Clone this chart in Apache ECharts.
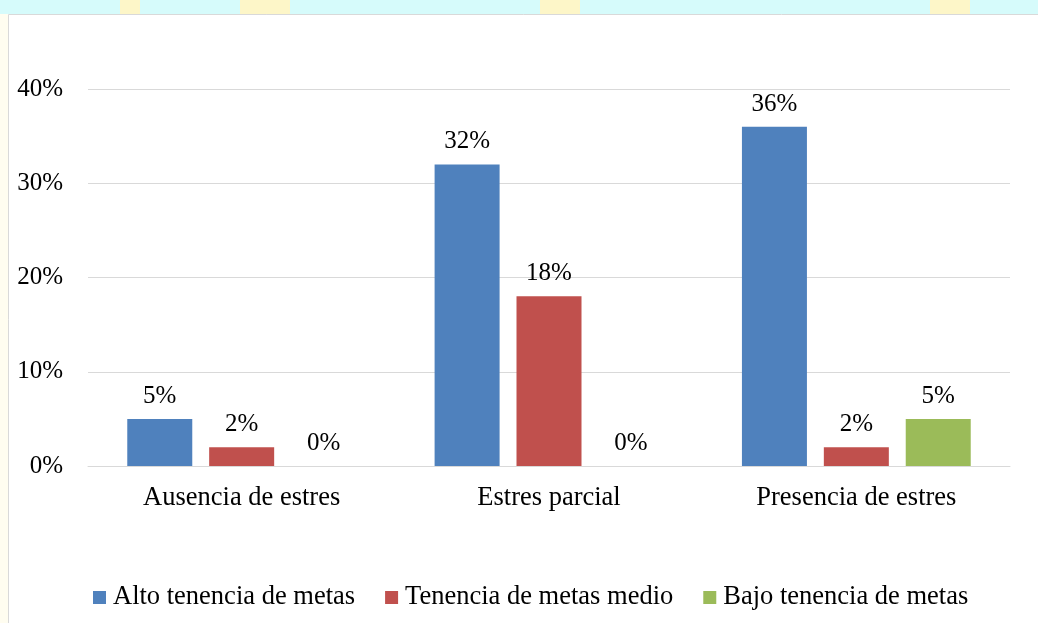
<!DOCTYPE html>
<html><head><meta charset="utf-8">
<script src="https://cdn.jsdelivr.net/npm/echarts@6/dist/echarts.min.js"></script>
<style>html,body{margin:0;padding:0;background:#fff}#c{width:1038px;height:623px}</style>
</head><body><div id="c"></div>
<script>
const categories = ['Ausencia de estres', 'Estres parcial', 'Presencia de estres'];
const seriesNames = ['Alto tenencia de metas', 'Tenencia de metas medio', 'Bajo tenencia de metas'];
const alto = [5, 32, 36];
const medio = [2, 18, 2];
const bajo = [0, 0, 5];
const yTicks = [0, 10, 20, 30, 40];
const colors = ['#4F81BD', '#C0504D', '#9BBB59'];

const chart = echarts.init(document.getElementById('c'));
const font = 'Liberation Serif, Times New Roman, serif';
const fs = 25;
const mk = (name, data, color) => ({
  name, type: 'bar', data, barWidth: 65, barGap: '26%',
  itemStyle: { color },
  label: { show: true, position: 'top', distance: 10, formatter: p => p.value + '%',
           fontFamily: font, fontSize: fs, color: '#000' }
});
chart.setOption({
  animation: false,
  textStyle: { fontFamily: font },
  graphic: [
    { type: 'rect', shape: { x: 0, y: 0, width: 1038, height: 14 }, style: { fill: '#d6fbfb' }, z: -10 },
    { type: 'rect', shape: { x: 120, y: 0, width: 20, height: 14 }, style: { fill: '#fdf6c8' }, z: -9 },
    { type: 'rect', shape: { x: 240, y: 0, width: 50, height: 14 }, style: { fill: '#fdf6c8' }, z: -9 },
    { type: 'rect', shape: { x: 540, y: 0, width: 40, height: 14 }, style: { fill: '#fdf6c8' }, z: -9 },
    { type: 'rect', shape: { x: 930, y: 0, width: 40, height: 14 }, style: { fill: '#fdf6c8' }, z: -9 },
    { type: 'rect', shape: { x: 0, y: 14, width: 8, height: 609 }, style: { fill: '#fffdf0' }, z: -9 },
    { type: 'rect', shape: { x: 8.5, y: 14.5, width: 1040, height: 620 },
      style: { fill: '#fff', stroke: '#d9d9d9', lineWidth: 1 }, z: -8 }
  ],
  grid: { left: 88, right: 28, top: 89, bottom: 157, containLabel: false },
  xAxis: {
    type: 'category', data: categories,
    axisLine: { lineStyle: { color: '#d9d9d9', width: 1 } },
    axisTick: { show: false },
    axisLabel: { fontFamily: font, fontSize: 26.5, color: '#000', margin: 19 }
  },
  yAxis: {
    type: 'value', min: yTicks[0], max: yTicks[yTicks.length - 1], interval: 10,
    axisLine: { show: false }, axisTick: { show: false },
    splitLine: { lineStyle: { color: '#d9d9d9', width: 1 } },
    axisLabel: { fontFamily: font, fontSize: fs, color: '#000', margin: 25, formatter: v => v + '%' }
  },
  legend: {
    bottom: 12, left: 93, padding: 0, itemWidth: 13, itemHeight: 13, itemGap: 30,
    icon: 'rect', data: seriesNames,
    textStyle: { fontFamily: font, fontSize: 26.5, color: '#000', padding: [0, 0, 0, 2] }
  },
  series: [mk(seriesNames[0], alto, colors[0]), mk(seriesNames[1], medio, colors[1]), mk(seriesNames[2], bajo, colors[2])]
});
</script></body></html>
